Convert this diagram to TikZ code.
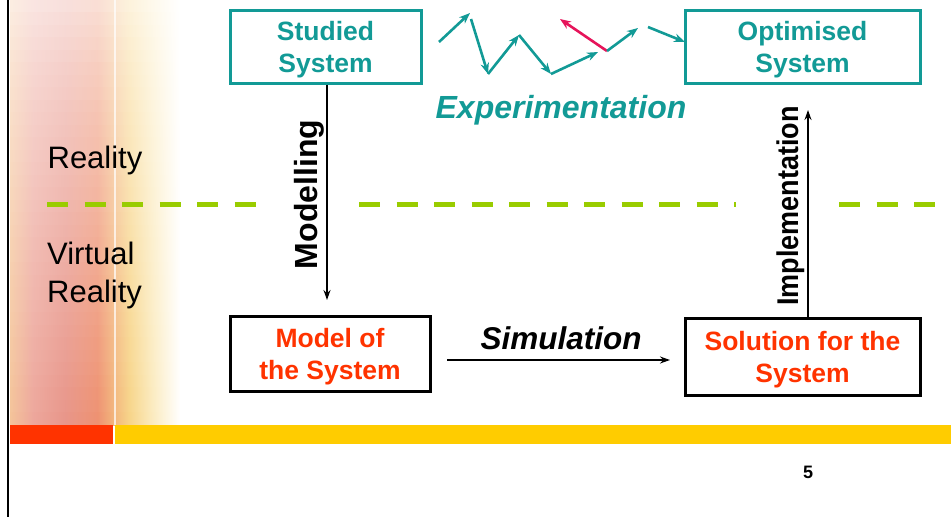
\documentclass[tikz,border=0pt]{standalone}
\usepackage{fontspec}
\setmainfont{Liberation Sans}
\usetikzlibrary{arrows.meta}
\definecolor{teal1}{RGB}{18,154,150}
\definecolor{redtxt}{RGB}{255,51,0}
\definecolor{green1}{RGB}{153,204,0}
\definecolor{yel1}{RGB}{255,204,0}
\definecolor{red1}{RGB}{255,51,0}
\definecolor{pinkarrow}{RGB}{230,20,90}
\definecolor{bgA}{RGB}{244,196,154}
\definecolor{bgB}{RGB}{237,167,156}
\definecolor{bgC}{RGB}{232,150,138}
\definecolor{bgD}{RGB}{238,146,114}
\definecolor{bgE}{RGB}{242,176,122}
\definecolor{bgF}{RGB}{247,213,138}
\definecolor{bgG}{RGB}{251,235,192}
\newcommand{\tstrut}{\rule{0pt}{25pt}}
\tikzset{
  tealbox/.style={draw=teal1, line width=3pt, text=teal1, font=\fontsize{26.5}{32}\selectfont\bfseries, align=center, inner sep=0pt},
  blackbox/.style={draw=black, line width=3pt, text=redtxt, font=\fontsize{26.5}{32}\selectfont\bfseries, align=center, inner sep=0pt},
  conn/.style={line width=1.5pt, -{Stealth[length=10pt,width=7pt]}},
  zz/.style={teal1, line width=2.6pt, -{Stealth[length=11pt,width=8.5pt]}},
  greendash/.style={green1, line width=5pt, dash pattern=on 21pt off 16.5pt},
  sidelabel/.style={font=\fontsize{31}{38}\selectfont, inner sep=0pt, align=left}
}
\begin{document}
\begin{tikzpicture}[x=1pt,y=-1pt]
\useasboundingbox (0,0) rectangle (951,517);
% background decoration (slices blended towards white at the top)
\foreach \i in {0,...,33}{
  \pgfmathtruncatemacro{\p}{round(30+70*(\i/33)^0.8)}
  \colorlet{sA\i}{bgA!\p!white}
  \colorlet{sB\i}{bgB!\p!white}
  \colorlet{sC\i}{bgC!\p!white}
  \colorlet{sD\i}{bgD!\p!white}
  \colorlet{sE\i}{bgE!\p!white}
  \colorlet{sF\i}{bgF!\p!white}
  \colorlet{sG\i}{bgG!\p!white}
  \pgfdeclarehorizontalshading{bgshade\i}{100bp}{color(0bp)=(sA\i); color(25bp)=(sA\i); color(30bp)=(sB\i); color(37bp)=(sC\i); color(44bp)=(sD\i); color(47bp)=(sE\i); color(51bp)=(sF\i); color(56bp)=(sG\i); color(62bp)=(white); color(100bp)=(white)}
  \fill[shading=bgshade\i] (10,\i*12.5) rectangle (240,\i*12.5+12.6);
}
\draw[white, line width=1.5pt, opacity=0.7] (115,0) -- (115,425);
\fill[red1] (10,425) rectangle (113,444);
\fill[yel1] (115,425) rectangle (951,444);
\draw[black, line width=2pt] (8,0) -- (8,517);
\node[font=\fontsize{18}{20}\selectfont\bfseries, inner sep=0pt] (pnum) at (808,472) {5};
% separator
\draw[greendash] (47,204) -- (256,204);
\draw[greendash] (359,204) -- (736,204);
\draw[greendash] (839,204) -- (935,204);
% side labels
\node[sidelabel] (real) at (95,160) {Reality};
\node[sidelabel, anchor=west] (vreal) at (47,275) {Virtual\\Reality};
% boxes
\node[tealbox, minimum width=191pt, minimum height=73pt] (studied) at (325.5,46.5) {\tstrut Studied\\System};
\node[tealbox, minimum width=235pt, minimum height=73pt] (optim) at (802.5,46.5) {\tstrut Optimised\\System};
\node[blackbox, minimum width=200pt, minimum height=75pt] (model) at (330,353.5) {\tstrut Model of\\the System};
\node[blackbox, minimum width=235pt, minimum height=77pt] (sol) at (802.5,356.5) {\tstrut Solution for the\\System};
% connectors
\coordinate (mtop) at (327,84.5);
\coordinate (mend) at (327,300);
\draw[conn] (mtop) -- (mend);
\coordinate (ibot) at (808,316.5);
\coordinate (iend) at (808,110);
\draw[conn] (ibot) -- (iend);
\coordinate (sstart) at (447,360);
\coordinate (send) at (670,360);
\draw[conn] (sstart) -- (send);
% labels
\node[rotate=90, font=\fontsize{32}{35}\selectfont\bfseries, inner sep=0pt] (lmod) at (309,194.5) {Modelling};
\node[rotate=90, font=\fontsize{30}{35}\selectfont\bfseries, inner sep=0pt] (limp) at (791,206) {\scalebox{0.9}[1]{Implementation}};
\node[font=\fontsize{31.5}{35}\selectfont\bfseries\itshape, inner sep=0pt] (lsim) at (561,338) {Simulation};
\node[font=\fontsize{32}{35}\selectfont\bfseries\itshape, text=teal1, inner sep=0pt] (lexp) at (561,110) {Experimentation};
% zigzag experimentation path
\coordinate (z0) at (439,42);
\coordinate (z1) at (470,13);
\coordinate (z2) at (471,19);
\coordinate (z3) at (488,74);
\coordinate (z4) at (519,35);
\coordinate (z5) at (551,74);
\coordinate (z6) at (598,52);
\coordinate (z7) at (607,51);
\coordinate (z8) at (560,19);
\coordinate (z9) at (638,28);
\coordinate (z10) at (648,27);
\coordinate (z11) at (685,42);
\draw[zz] (z0) -- (z1);
\draw[zz] (z2) -- (z3);
\draw[zz] (z3) -- (z4);
\draw[zz] (z4) -- (z5);
\draw[zz] (z5) -- (z6);
\draw[zz, pinkarrow] (z7) -- (z8);
\draw[zz] (z7) -- (z9);
\draw[zz] (z10) -- (z11);
\end{tikzpicture}
\end{document}
